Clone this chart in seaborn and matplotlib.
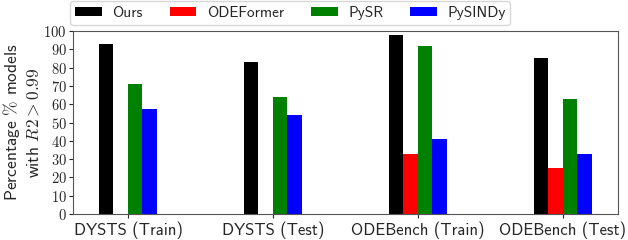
import pandas as pd
import numpy as np
import seaborn as sns
import matplotlib.pyplot as plt

datasets = ['DYSTS (Train)', 'DYSTS (Test)', 'ODEBench (Train)', 'ODEBench (Test)']
methods = ['Ours', 'ODEFormer', 'PySR', 'PySINDy']
ours = [93, 83, 98, 85]
odeformer = [0, 0, 33, 25]
pysr = [71, 64, 92, 63]
pysindy = [57.5, 54, 41, 33]
colors = ['black', 'red', 'green', 'blue']

df = pd.DataFrame({
    'dataset': datasets * 4,
    'method': np.repeat(methods, 4),
    'value': ours + odeformer + pysr + pysindy,
})

sns.set_style('ticks')
plt.rcParams['mathtext.fontset'] = 'cm'
plt.rcParams['font.family'] = ['cmss10', 'DejaVu Sans']
plt.rcParams['axes.unicode_minus'] = False

fig, ax = plt.subplots(figsize=(6.28, 2.4), dpi=100)
sns.barplot(data=df, x='dataset', y='value', hue='method', hue_order=methods,
            order=datasets, palette=colors, width=0.4, saturation=1, gap=0,
            linewidth=0, ax=ax)

ax.set_ylim(0, 100)
ax.set_xlim(-0.38, 3.38)
ax.set_yticks(range(0, 101, 10))
ax.set_yticklabels([f'${v}$' for v in range(0, 101, 10)], fontsize=10.5)
ax.tick_params(axis='x', labelsize=12, length=3, pad=2)
ax.tick_params(axis='y', length=3, pad=1.5)
ax.set_xlabel('')
ax.set_ylabel('Percentage $\\%$ models\nwith $R2 > 0.99$', fontsize=12.5, labelpad=1, linespacing=1.3)
for s in ax.spines.values():
    s.set_visible(True)
    s.set_color('#555555')

ax.legend(loc='upper center', bbox_to_anchor=(0.4625, 0.994), bbox_transform=fig.transFigure,
          ncol=4, fontsize=11, handlelength=1.75, handleheight=0.6, handletextpad=0.7,
          columnspacing=1.75, frameon=True, fancybox=True, borderaxespad=0,
          borderpad=0.3)

fig.subplots_adjust(left=0.116, right=0.984, bottom=0.108, top=0.871)
fig.savefig('out.png', dpi=100)
